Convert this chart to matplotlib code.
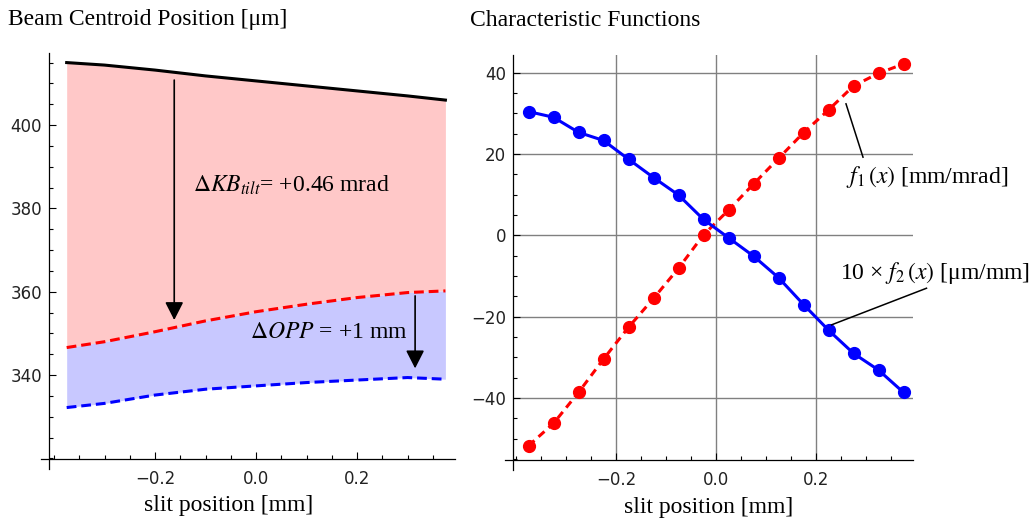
import numpy as np
import matplotlib.pyplot as plt
from matplotlib.ticker import MultipleLocator, FixedLocator

plt.rcParams['font.family'] = ['Liberation Serif', 'DejaVu Serif']
plt.rcParams['mathtext.fontset'] = 'stix'

# left panel: beam centroid position [um] vs slit position [mm]
xs = [-0.375, -0.3, -0.2, -0.1, 0.0, 0.1, 0.2, 0.3, 0.375]
nominal = [415.0, 414.4, 413.2, 411.8, 410.6, 409.4, 408.2, 407.0, 406.0]
kb_tilt = [346.6, 348.0, 350.4, 353.0, 355.2, 357.0, 358.6, 359.8, 360.2]
opp = [332.2, 333.2, 335.2, 336.6, 337.4, 338.2, 338.8, 339.4, 339.0]

# right panel: characteristic functions at the slit positions
xp = [-0.375, -0.325, -0.275, -0.225, -0.175, -0.125, -0.075, -0.025,
      0.025, 0.075, 0.125, 0.175, 0.225, 0.275, 0.325, 0.375]
f1 = [-51.7, -46.2, -38.6, -30.4, -22.6, -15.5, -8.1, 0.1,
      6.2, 12.6, 18.9, 25.2, 30.8, 36.7, 39.8, 42.1]
f2x10 = [30.4, 29.0, 25.3, 23.3, 18.7, 14.2, 9.9, 3.9,
         -0.6, -5.1, -10.4, -17.0, -23.3, -29.0, -33.1, -38.6]

x_ticks = [-0.2, 0.0, 0.2]
left_yticks = [340, 360, 380, 400]
right_yticks = [-40, -20, 0, 20, 40]

W, H = 1036, 519
fig = plt.figure(figsize=(W / 100, H / 100), dpi=100)

def px_ax(l, r, t, b):
    return fig.add_axes([l / W, 1 - b / H, (r - l) / W, (b - t) / H])

def style(ax, yticks):
    for s in ax.spines.values():
        s.set_visible(False)
    ax.plot([-0.02, 1], [0, 0], transform=ax.transAxes, color='k', lw=0.9, clip_on=False)
    ax.plot([0, 0], [-0.025, 1], transform=ax.transAxes, color='k', lw=0.9, clip_on=False)
    ax.xaxis.set_major_locator(FixedLocator(x_ticks))
    ax.xaxis.set_minor_locator(MultipleLocator(0.05))
    ax.yaxis.set_major_locator(FixedLocator(yticks))
    ax.yaxis.set_minor_locator(MultipleLocator(5))
    ax.tick_params(which='both', direction='in', top=False, right=False, width=0.8,
                   labelsize=12, labelfontfamily='DejaVu Sans', labelcolor='#222222')
    ax.tick_params(which='major', length=5)
    ax.tick_params(which='minor', length=3)
    ax.tick_params(axis='x', pad=8)
    ax.tick_params(axis='y', pad=5)
    ax.xaxis.set_major_formatter(lambda v, p: f'{v:.1f}'.replace('-', '\u2212'))

# ---- left panel
ax1 = px_ax(49, 455, 53, 459)
style(ax1, left_yticks)
ax1.set_xlim(-0.41, 0.394)
ax1.set_ylim(319.85, 417.3)
ax1.fill_between(xs, kb_tilt, nominal, color='#ffc8c8', lw=0)
ax1.fill_between(xs, opp, kb_tilt, color='#c8c8ff', lw=0)
ax1.plot(xs, nominal, color='k', lw=2.2)
ax1.plot(xs, kb_tilt, color='#ff0000', lw=2.2, ls=(0, (3.2, 1.6)))
ax1.plot(xs, opp, color='#0000ff', lw=2.2, ls=(0, (3.2, 1.6)))
arrow = dict(arrowstyle='-|>,head_length=0.55,head_width=0.28', color='k', lw=1.2,
             mutation_scale=20, shrinkA=0, shrinkB=0)
ax1.annotate('', xy=(-0.162, 353.2), xytext=(-0.162, 410.8), arrowprops=arrow)
ax1.annotate('', xy=(0.315, 341.6), xytext=(0.315, 359.0), arrowprops=arrow)
ax1.text(-0.125, 385.6, r'$\Delta KB_{tilt}$= +0.46 mrad', fontsize=17, va='center', ha='left')
ax1.text(0.3, 350.1, r'$\Delta OPP$ = +1 mm', fontsize=17, va='center', ha='right')

# ---- right panel
ax2 = px_ax(513, 913, 55, 460)
style(ax2, right_yticks)
ax2.set_xlim(-0.406, 0.394)
ax2.set_ylim(-55.2, 44.3)
ax2.grid(True, which='major', color='#808080', lw=1.0)
ax2.set_axisbelow(True)
ax2.plot(xp, f1, color='#ff0000', lw=2.2, ls=(0, (2.6, 1.8)), marker='o', ms=8.5, clip_on=False)
ax2.plot(xp, f2x10, color='#0000ff', lw=2.2, marker='o', ms=8.5, clip_on=False)
ax2.plot([0.26, 0.294], [32.3, 19.2], color='k', lw=1.1, clip_on=False)
ax2.plot([0.421, 0.231], [-13.0, -22.0], color='k', lw=1.1, clip_on=False)
ax2.text(0.261, 14.4, r'$f_1\,(x)$ [mm/mrad]', fontsize=17, va='center', ha='left')
ax2.text(0.248, -9.3, '10 \u00d7 ' + r'$f_2\,(x)$' + ' [\u03bcm/mm]', fontsize=17, va='center', ha='left')

# titles and axis labels
fig.text(8 / W, 1 - 20 / H, 'Beam Centroid Position [\u03bcm]', fontsize=17, va='center', ha='left')
fig.text(470 / W, 1 - 20 / H, 'Characteristic Functions', fontsize=17, va='center', ha='left')
fig.text(229 / W, 1 - 505 / H, 'slit position [mm]', fontsize=17, va='center', ha='center')
fig.text(709 / W, 1 - 507 / H, 'slit position [mm]', fontsize=17, va='center', ha='center')

fig.savefig('out.png', dpi=100)
